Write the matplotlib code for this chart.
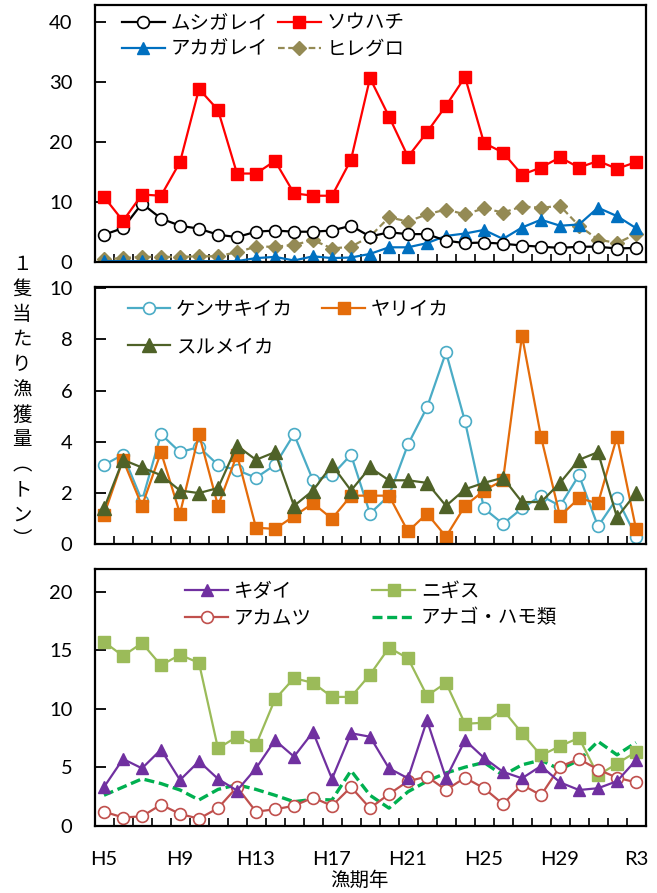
import matplotlib
matplotlib.use("Agg")
import matplotlib.pyplot as plt
from matplotlib.ticker import FixedLocator, NullFormatter

# ---------------- data ----------------
years = ["H5", "H6", "H7", "H8", "H9", "H10", "H11", "H12", "H13", "H14",
         "H15", "H16", "H17", "H18", "H19", "H20", "H21", "H22", "H23", "H24",
         "H25", "H26", "H27", "H28", "H29", "H30", "R1", "R2", "R3"]
tick_labels = ["H5", "H9", "H13", "H17", "H21", "H25", "H29", "R3"]

mushigarei = [4.6, 5.7, 9.8, 7.3, 6.1, 5.6, 4.6, 4.2, 5.1, 5.3, 5.1, 5.1, 5.3, 6.1, 4.3,
              5.0, 4.7, 4.7, 3.6, 3.2, 3.3, 3.1, 2.8, 2.6, 2.4, 2.6, 2.6, 2.3, 2.4]
souhachi = [10.9, 6.9, 11.3, 11.1, 16.7, 28.9, 25.4, 14.8, 14.8, 16.9, 11.5, 11.1, 11.1, 17.1, 30.7,
            24.3, 17.6, 21.7, 26.1, 30.9, 19.9, 18.3, 14.6, 15.8, 17.5, 15.8, 16.9, 15.6, 16.7]
akagarei = [0.2, 0.2, 0.2, 0.2, 0.2, 0.2, 0.2, 0.2, 0.7, 0.9, 0.3, 1.0, 0.7, 0.8, 1.4,
            2.5, 2.5, 3.2, 4.4, 4.8, 5.4, 3.9, 5.8, 7.1, 6.1, 6.3, 9.1, 7.7, 5.7]
hiregur = [0.5, 0.7, 0.9, 0.9, 0.9, 1.0, 1.0, 1.7, 2.6, 2.6, 2.9, 3.7, 2.3, 2.6, 4.3,
           7.5, 6.8, 8.0, 8.8, 8.0, 9.0, 8.3, 9.3, 9.1, 9.4, 6.1, 3.8, 3.2, 4.7]

kensaki = [3.1, 3.5, 1.7, 4.3, 3.6, 3.8, 3.1, 2.9, 2.6, 3.1, 4.3, 2.5, 2.7, 3.5, 1.2,
           1.9, 3.9, 5.35, 7.5, 4.8, 1.4, 0.8, 1.4, 1.9, 1.5, 2.7, 0.7, 1.8, 0.3]
yariika = [1.15, 3.3, 1.5, 3.6, 1.2, 4.3, 1.5, 3.5, 0.65, 0.6, 1.1, 1.6, 1.0, 1.9, 1.9,
           1.9, 0.5, 1.2, 0.3, 1.5, 2.1, 2.5, 8.15, 4.2, 1.1, 1.8, 1.6, 4.2, 0.6]
surume = [1.4, 3.3, 3.0, 2.7, 2.1, 2.0, 2.2, 3.85, 3.3, 3.6, 1.5, 2.1, 3.1, 2.1, 3.0,
          2.5, 2.5, 2.4, 1.5, 2.15, 2.4, 2.6, 1.65, 1.65, 2.4, 3.3, 3.6, 1.05, 2.0]

kidai = [3.3, 5.7, 4.9, 6.5, 3.9, 5.5, 4.0, 3.0, 4.9, 7.3, 5.9, 8.0, 4.0, 7.9, 7.6,
         4.9, 4.05, 9.0, 4.05, 7.3, 5.8, 4.6, 4.05, 5.1, 3.7, 3.05, 3.2, 3.8, 5.6]
nigisu = [15.7, 14.5, 15.6, 13.7, 14.6, 13.9, 6.6, 7.6, 6.9, 10.8, 12.6, 12.2, 11.0, 11.0, 12.9,
          15.2, 14.3, 11.1, 12.2, 8.7, 8.8, 9.9, 7.9, 6.0, 6.8, 7.5, 4.3, 5.3, 6.3]
akamutsu = [1.2, 0.7, 0.8, 1.8, 1.0, 0.6, 1.5, 3.3, 1.2, 1.4, 1.7, 2.4, 1.7, 3.3, 1.5,
            2.7, 3.8, 4.2, 3.05, 4.1, 3.2, 1.85, 3.5, 2.6, 5.05, 5.7, 4.8, 4.1, 3.7]
anago = [2.6, 3.3, 4.0, 3.6, 3.05, 2.2, 3.1, 3.5, 3.1, 2.6, 2.05, 2.25, 2.2, 4.7, 2.6,
         1.5, 2.9, 3.8, 4.5, 5.0, 5.4, 4.3, 5.2, 5.6, 4.8, 5.6, 7.2, 6.05, 7.1]

ylabel_chars = ["１", "隻", "当", "た", "り", "漁", "獲", "量", "︵", "ト", "ン", "︶"]
xlabel_text = "漁期年"

# ---------------- style ----------------
JP = ["Noto Sans CJK JP", "DejaVu Sans"]
NUM = ["Lato", "DejaVu Sans"]
plt.rcParams["font.family"] = JP

W, H = 657, 893
fig = plt.figure(figsize=(W / 100, H / 100), dpi=100)

x = list(range(len(years)))
left, right = 94.5, 645.5
panels_px = [(5, 262.3), (287, 544.3), (569.3, 825.7)]


def make_ax(top, bottom):
    return fig.add_axes([left / W, 1 - bottom / H, (right - left) / W, (bottom - top) / H])


axes = [make_ax(t, b) for t, b in panels_px]
ylims = [(0, 42.9), (0, 10.05), (0, 21.9)]
yticks = [[0, 10, 20, 30, 40], [0, 2, 4, 6, 8, 10], [0, 5, 10, 15, 20]]

for ax, yl, yt in zip(axes, ylims, yticks):
    ax.set_xlim(-0.5, len(years) - 0.5)
    ax.set_ylim(*yl)
    ax.set_yticks(yt)
    ax.set_yticklabels([str(v) for v in yt], family=NUM, fontsize=14.5)
    for s in ax.spines.values():
        s.set_linewidth(1.6)
        s.set_color("black")
    ax.tick_params(axis="y", direction="in", length=8, width=1.3, pad=16)
    ax.xaxis.set_major_locator(FixedLocator([x[years.index(t)] for t in tick_labels]))
    ax.xaxis.set_minor_locator(FixedLocator([i + 0.5 for i in range(len(years) - 1)]))
    ax.tick_params(axis="x", which="major", length=0, pad=18)
    ax.tick_params(axis="x", which="minor", direction="in", length=6, width=1.2)
    ax.xaxis.set_minor_formatter(NullFormatter())

axes[0].set_xticklabels([])
axes[1].set_xticklabels([])
axes[2].set_xticklabels(tick_labels, family=NUM, fontsize=14.5)

lw = 1.6
# panel 1
ax = axes[0]
l_mu, = ax.plot(x, mushigarei, color="black", lw=lw, marker="o", ms=8.5, mfc="white", mec="black", mew=1.2, label="ムシガレイ")
l_so, = ax.plot(x, souhachi, color="#FF0000", lw=lw, marker="s", ms=9, mfc="#FF0000", mec="#FF0000", label="ソウハチ")
l_ak, = ax.plot(x, akagarei, color="#0070C0", lw=lw, marker="^", ms=9, mfc="#0070C0", mec="#0070C0", label="アカガレイ")
l_hi, = ax.plot(x, hiregur, color="#948A54", lw=lw, ls=(0, (3, 1.6)), marker="D", ms=7, mfc="#948A54", mec="#948A54", label="ヒレグロ")
for ln in (l_so, l_mu):
    ln.set_zorder(3)
l_ak.set_zorder(2.5)

# panel 2
ax = axes[1]
l_ke, = ax.plot(x, kensaki, color="#4BACC6", lw=lw, marker="o", ms=8.5, mfc="white", mec="#4BACC6", mew=1.2, label="ケンサキイカ")
l_ya, = ax.plot(x, yariika, color="#E46C0A", lw=lw, marker="s", ms=9, mfc="#E46C0A", mec="#E46C0A", label="ヤリイカ")
l_su, = ax.plot(x, surume, color="#4F6228", lw=lw, marker="^", ms=9.5, mfc="#4F6228", mec="#4F6228", label="スルメイカ")

# panel 3
ax = axes[2]
l_an, = ax.plot(x, anago, color="#00B050", lw=2.4, ls=(0, (3, 1.4)), label="アナゴ・ハモ類")
l_ni, = ax.plot(x, nigisu, color="#9BBB59", lw=lw, marker="s", ms=9, mfc="#9BBB59", mec="#9BBB59", label="ニギス")
l_ka, = ax.plot(x, akamutsu, color="#C0504D", lw=lw, marker="o", ms=8.5, mfc="white", mec="#C0504D", mew=1.2, label="アカムツ")
l_kd, = ax.plot(x, kidai, color="#7030A0", lw=lw, marker="^", ms=9, mfc="#7030A0", mec="#7030A0", label="キダイ")

leg_common = dict(ncol=2, loc="upper left", frameon=False, borderpad=0, borderaxespad=0,
                  handlelength=2.2, handletextpad=0.3, prop={"family": JP, "size": 14})

axes[0].legend([l_mu, l_ak, l_so, l_hi], ["ムシガレイ", "アカガレイ", "ソウハチ", "ヒレグロ"],
               bbox_to_anchor=(0.05, 0.97), columnspacing=0.5, labelspacing=0.25, **leg_common)
axes[1].legend([l_ke, l_su, l_ya], ["ケンサキイカ", "スルメイカ", "ヤリイカ"],
               bbox_to_anchor=(0.06, 0.955), columnspacing=1.5, labelspacing=0.85, **leg_common)
axes[2].legend([l_kd, l_ka, l_ni, l_an], ["キダイ", "アカムツ", "ニギス", "アナゴ・ハモ類"],
               bbox_to_anchor=(0.165, 0.955), columnspacing=3.1, labelspacing=0.3, **leg_common)

# vertical y label
y0, dy = 265, 25
for i, ch in enumerate(ylabel_chars):
    fig.text(22 / W, 1 - (y0 + i * dy) / H, ch, ha="center", va="center", fontsize=14, family=JP)

fig.text(359 / W, 1 - 880 / H, xlabel_text, ha="center", va="center", fontsize=14, family=JP)

fig.savefig("out.png", dpi=100)
